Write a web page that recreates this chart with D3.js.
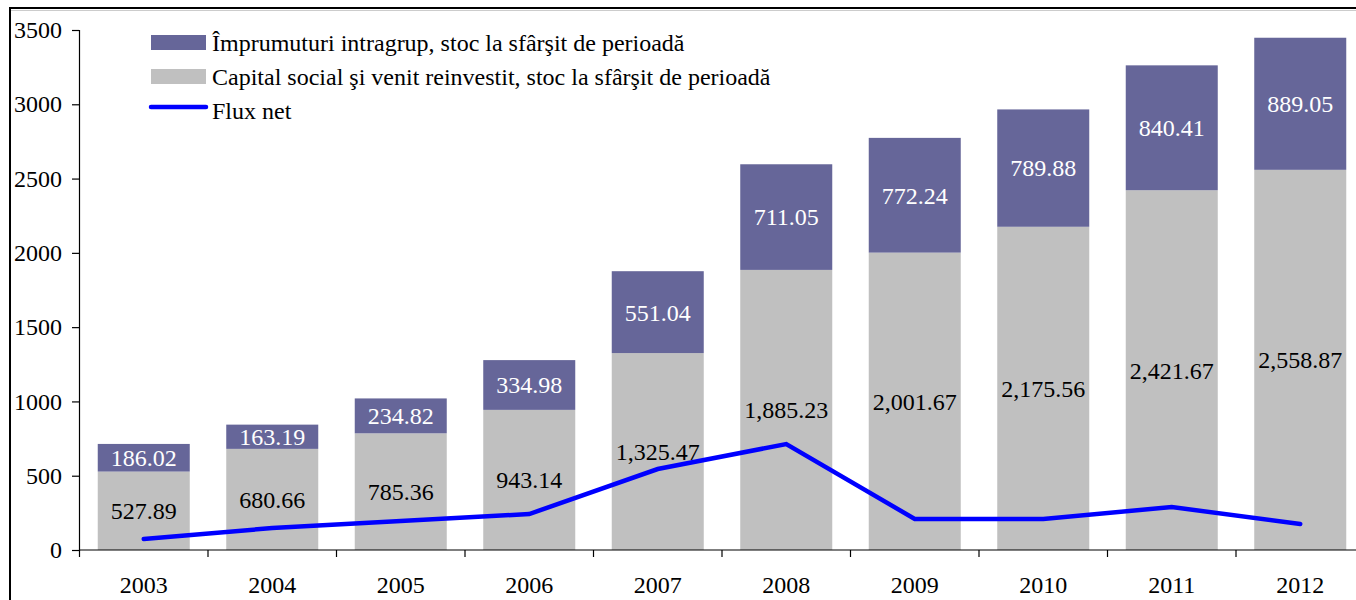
<!DOCTYPE html>
<html>
<head>
<meta charset="utf-8">
<script src="https://cdn.jsdelivr.net/npm/d3@7"></script>
<style>
  body { margin: 0; background: #fff; }
  svg { display: block; font-family: "Liberation Serif", "Times New Roman", serif; }
</style>
</head>
<body>
<svg id="chart" width="1356" height="600"></svg>
<script>
const years = ["2003","2004","2005","2006","2007","2008","2009","2010","2011","2012"];
const capital = [527.89, 680.66, 785.36, 943.14, 1325.47, 1885.23, 2001.67, 2175.56, 2421.67, 2558.87];
const imprumuturi = [186.02, 163.19, 234.82, 334.98, 551.04, 711.05, 772.24, 789.88, 840.41, 889.05];
const fluxNet = [74, 148, 195, 242, 545, 713, 209, 209, 289, 175];
const yTicks = [0, 500, 1000, 1500, 2000, 2500, 3000, 3500];
const legendLabels = ["Împrumuturi intragrup, stoc la sfârşit de perioadă", "Capital social şi venit reinvestit, stoc la sfârşit de perioadă", "Flux net"];

const svg = d3.select("#chart");
const colPurple = "#666699", colGray = "#C0C0C0", colBlue = "#0000FF";
const FONT = "Liberation Serif, Times New Roman, serif";

// outer frame
svg.append("rect").attr("x", 10).attr("y", 8).attr("width", 1400).attr("height", 700)
  .attr("fill", "none").attr("stroke", "#000").attr("stroke-width", 2);
svg.append("line").attr("x1", 11).attr("x2", 1356).attr("y1", 10.5).attr("y2", 10.5)
  .attr("stroke", "#ccc").attr("stroke-width", 1);

const x0 = 79.5, step = 128.5;
const x = d3.scaleBand().domain(years).range([x0, x0 + step * years.length])
  .paddingInner(0.284).paddingOuter(0.142);
const y = d3.scaleLinear().domain([0, 3500]).range([550, 30]);

// bars
const g = svg.append("g");
g.selectAll(".cap").data(years).join("rect")
  .attr("x", d => x(d)).attr("width", x.bandwidth())
  .attr("y", (d, i) => y(capital[i])).attr("height", (d, i) => y(0) - y(capital[i]))
  .attr("fill", colGray);
g.selectAll(".imp").data(years).join("rect")
  .attr("x", d => x(d)).attr("width", x.bandwidth())
  .attr("y", (d, i) => y(capital[i] + imprumuturi[i]))
  .attr("height", (d, i) => y(capital[i]) - y(capital[i] + imprumuturi[i]))
  .attr("fill", colPurple);

const fmt = d3.format(",.2f");
g.selectAll(".capl").data(years).join("text")
  .attr("x", d => x(d) + x.bandwidth() / 2)
  .attr("y", (d, i) => y(capital[i] / 2))
  .attr("dy", "0.35em").attr("text-anchor", "middle")
  .attr("font-family", FONT).attr("font-size", 24).attr("fill", "#000")
  .text((d, i) => fmt(capital[i]));
g.selectAll(".impl").data(years).join("text")
  .attr("x", d => x(d) + x.bandwidth() / 2)
  .attr("y", (d, i) => y(capital[i] + imprumuturi[i] / 2))
  .attr("dy", "0.35em").attr("text-anchor", "middle")
  .attr("font-family", FONT).attr("font-size", 24).attr("fill", "#fff")
  .text((d, i) => fmt(imprumuturi[i]));

// y axis
const yAxis = d3.axisLeft(y).tickValues(yTicks).tickSize(7).tickPadding(10).tickFormat(d3.format("d"));
const ya = svg.append("g").attr("transform", "translate(79,0)").call(yAxis);
ya.attr("font-family", FONT);
ya.select(".domain").attr("stroke", "#000").attr("stroke-width", 1.2);
ya.selectAll(".tick line").attr("stroke", "#000").attr("stroke-width", 1.2);
ya.selectAll("text").attr("font-family", FONT).attr("font-size", 24).attr("fill", "#000");

// x axis
const xAxis = d3.axisBottom(x).tickSize(0).tickPadding(26);
const xa = svg.append("g").attr("transform", "translate(0,550)").call(xAxis);
xa.attr("font-family", FONT);
xa.select(".domain").remove();
xa.selectAll("text").attr("font-family", FONT).attr("font-size", 24).attr("fill", "#000");
xa.append("line").attr("x1", 79).attr("x2", 1356).attr("y1", 0).attr("y2", 0)
  .attr("stroke", "#000").attr("stroke-width", 1.2);
const bounds = d3.range(years.length + 1).map(i => x0 + i * step);
xa.selectAll(".bt").data(bounds).join("line")
  .attr("x1", d => d).attr("x2", d => d).attr("y1", 0).attr("y2", 7)
  .attr("stroke", "#000").attr("stroke-width", 1.2);

// line
const line = d3.line().x((d, i) => x(years[i]) + x.bandwidth() / 2).y(d => y(d));
svg.append("path").datum(fluxNet).attr("d", line)
  .attr("fill", "none").attr("stroke", colBlue).attr("stroke-width", 4.5)
  .attr("stroke-linejoin", "miter").attr("stroke-linecap", "round");

// legend
const lg = svg.append("g");
lg.append("rect").attr("x", 151).attr("y", 35).attr("width", 55).attr("height", 15).attr("fill", colPurple);
lg.append("rect").attr("x", 151).attr("y", 69).attr("width", 55).attr("height", 15).attr("fill", colGray);
lg.append("line").attr("x1", 151).attr("x2", 206).attr("y1", 107).attr("y2", 107)
  .attr("stroke", colBlue).attr("stroke-width", 4.5).attr("stroke-linecap", "round");
lg.selectAll("text").data(legendLabels).join("text")
  .attr("x", 212).attr("y", (d, i) => 51 + i * 34)
  .attr("font-family", FONT).attr("font-size", 24).attr("fill", "#000").text(d => d);
</script>
</body>
</html>
